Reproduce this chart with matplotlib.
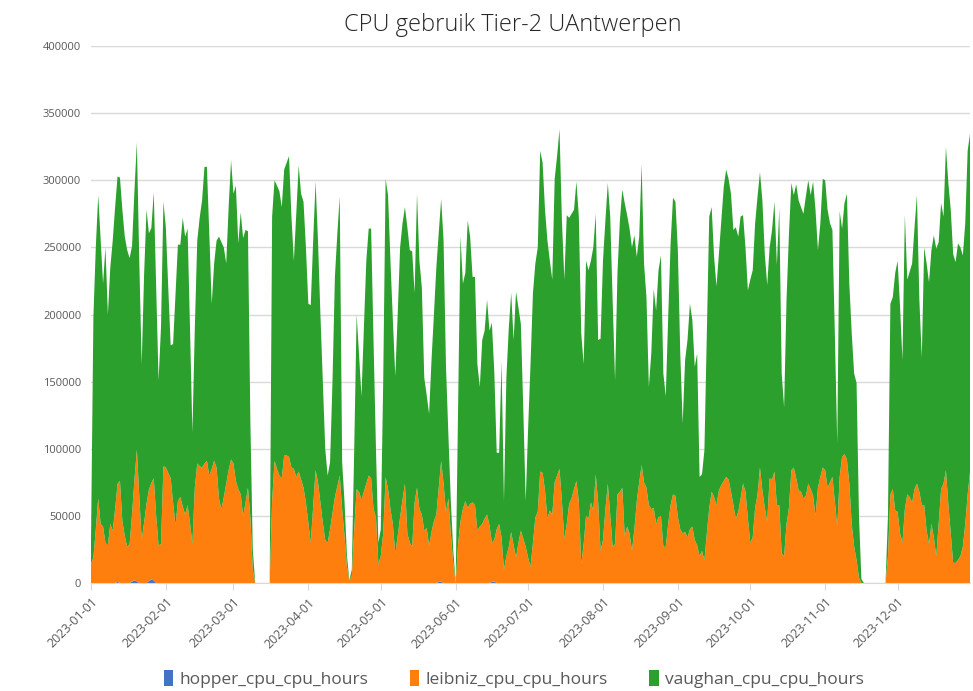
import numpy as np
import pandas as pd
import matplotlib
matplotlib.use("Agg")
import matplotlib.pyplot as plt
import matplotlib.dates as mdates
from matplotlib.patches import Patch

days = pd.date_range("2023-01-01", "2023-12-31", freq="D")

# dagelijkse cpu uren per cluster, in duizenden
leibniz_k = [
    14, 19, 40, 63, 44, 42, 30, 28, 44, 39,
    55, 73, 76, 46, 35, 27, 29, 50, 75, 98,
    65, 32, 45, 59, 68, 72, 76, 50, 28, 29,
    87, 86, 82, 78, 60, 43, 61, 64, 57, 51,
    58, 45, 29, 71, 89, 87, 86, 89, 91, 80,
    85, 91, 86, 63, 55, 64, 74, 84, 92, 89,
    76, 70, 66, 50, 60, 71, 49, 10, 0, 0,
    0, 0, 0, 0, 0, 61, 91, 85, 80, 78,
    95, 95, 94, 86, 85, 79, 83, 77, 71, 60,
    45, 30, 57, 84, 75, 60, 45, 32, 30, 40,
    52, 64, 72, 80, 55, 35, 12, 2, 5, 40,
    70, 68, 62, 68, 74, 80, 78, 55, 49, 14,
    20, 37, 79, 70, 55, 44, 22, 35, 49, 62,
    74, 37, 30, 27, 60, 71, 55, 51, 39, 41,
    28, 38, 46, 51, 70, 90, 74, 53, 63, 37,
    15, 0, 29, 46, 55, 61, 56, 59, 60, 58,
    39, 42, 44, 48, 51, 43, 29, 31, 40, 44,
    34, 10, 20, 27, 38, 28, 19, 30, 39, 33,
    27, 19, 12, 30, 49, 53, 83, 82, 69, 48,
    54, 51, 75, 80, 85, 61, 33, 44, 59, 63,
    70, 76, 61, 14, 29, 50, 48, 60, 54, 81,
    60, 24, 32, 55, 74, 51, 27, 29, 66, 68,
    71, 35, 42, 37, 24, 40, 61, 75, 88, 75,
    71, 58, 55, 56, 44, 49, 50, 27, 27, 44,
    58, 66, 65, 49, 40, 37, 38, 34, 40, 42,
    32, 28, 20, 24, 17, 37, 56, 68, 64, 58,
    69, 73, 76, 79, 77, 68, 58, 48, 53, 63,
    74, 68, 48, 30, 34, 56, 66, 86, 69, 56,
    46, 78, 77, 83, 58, 58, 22, 20, 44, 56,
    84, 86, 78, 69, 68, 63, 65, 74, 70, 65,
    50, 71, 79, 86, 84, 71, 75, 79, 61, 42,
    79, 94, 96, 92, 74, 44, 27, 17, 4, 0,
    0, 0, 0, 0, 0, 0, 0, 0, 0, 0,
    20, 66, 70, 54, 53, 37, 30, 55, 66, 64,
    60, 70, 74, 68, 58, 58, 39, 29, 44, 34,
    20, 44, 70, 74, 84, 59, 37, 15, 15, 17,
    20, 27, 44, 66, 83,
]

vaughan_k = [
    16, 179, 210, 226, 212, 181, 220, 172, 191, 216,
    225, 229, 226, 232, 223, 221, 213, 200, 215, 229,
    175, 131, 185, 219, 191, 190, 213, 170, 123, 162,
    197, 179, 138, 99, 118, 172, 191, 188, 215, 207,
    206, 145, 83, 119, 166, 185, 199, 221, 219, 180,
    123, 147, 169, 195, 199, 186, 164, 196, 223, 201,
    220, 183, 210, 207, 203, 191, 71, 15, 0, 0,
    0, 0, 0, 0, 0, 212, 209, 211, 212, 202,
    213, 218, 224, 187, 155, 196, 228, 213, 213, 190,
    163, 177, 198, 215, 180, 140, 105, 68, 50, 50,
    98, 164, 188, 208, 35, 25, 8, 0, 5, 60,
    130, 102, 77, 122, 166, 184, 186, 125, 51, 16,
    20, 113, 222, 219, 185, 152, 132, 165, 201, 206,
    206, 228, 218, 220, 156, 219, 185, 169, 114, 99,
    98, 128, 154, 184, 190, 195, 181, 108, 47, 24,
    10, 0, 101, 212, 168, 170, 214, 199, 168, 170,
    124, 104, 137, 140, 160, 145, 164, 125, 57, 53,
    131, 51, 133, 163, 178, 153, 198, 175, 154, 97,
    34, 96, 151, 186, 189, 197, 239, 231, 209, 207,
    186, 175, 226, 238, 253, 209, 193, 230, 213, 212,
    208, 223, 212, 172, 134, 190, 185, 180, 196, 194,
    121, 158, 208, 215, 224, 222, 184, 122, 165, 202,
    222, 248, 232, 227, 226, 219, 182, 183, 224, 163,
    142, 88, 116, 163, 159, 184, 194, 129, 112, 154,
    195, 221, 219, 199, 131, 82, 128, 147, 168, 154,
    129, 143, 59, 57, 82, 149, 217, 212, 179, 163,
    176, 197, 219, 229, 224, 222, 205, 217, 205, 210,
    200, 182, 170, 196, 199, 212, 222, 220, 216, 189,
    176, 172, 186, 201, 179, 221, 134, 111, 167, 204,
    214, 203, 219, 216, 212, 212, 223, 226, 219, 234,
    228, 177, 189, 215, 216, 207, 193, 184, 125, 62,
    198, 170, 187, 198, 149, 142, 129, 132, 46, 3,
    0, 0, 0, 0, 0, 0, 0, 0, 0, 0,
    30, 142, 143, 177, 187, 169, 136, 219, 160, 168,
    178, 195, 215, 143, 110, 192, 199, 195, 204, 225,
    229, 210, 213, 199, 241, 239, 241, 230, 224, 236,
    230, 217, 224, 256, 252,
]

# hopper draait bijna niets: alleen een paar dagen met wat uren
hopper_days = [11, 17, 18, 19, 24, 25, 26, 144, 145, 166, 167]
hopper_k = [0.8, 1.0, 2.0, 1.2, 1.5, 2.5, 2.0, 0.8, 1.0, 0.8, 1.2]

names = ["hopper_cpu_cpu_hours", "leibniz_cpu_cpu_hours", "vaughan_cpu_cpu_hours"]
colors = ["#4472c4", "#ff7f0e", "#2ca02c"]

hopper = np.zeros(len(days))
hopper[hopper_days] = hopper_k
hopper = hopper * 1000
leibniz = np.array(leibniz_k) * 1000
vaughan = np.array(vaughan_k) * 1000

plt.rcParams['font.family'] = ['Open Sans', 'DejaVu Sans']
grey = "#595959"

fig = plt.figure(figsize=(9.73, 6.91), dpi=100)
ax = fig.add_axes([0.0935, 0.1563, 0.9035, 0.7771])
ax.stackplot(days, hopper, leibniz, vaughan, colors=colors, linewidth=0)

ax.set_xlim(days[0], days[-1])
ax.set_ylim(0, 400000)
ax.set_yticks(np.arange(0, 400001, 50000))
ax.yaxis.grid(True, color="#d9d9d9", linewidth=1)
ax.set_axisbelow(True)
for s in ["top", "right", "left"]:
    ax.spines[s].set_visible(False)
ax.spines["bottom"].set_color("#d9d9d9")
ax.tick_params(axis="y", length=0, pad=7, labelsize=8, labelcolor=grey)

ax.xaxis.set_major_locator(mdates.MonthLocator())
ax.xaxis.set_major_formatter(mdates.DateFormatter("%Y-%m-%d"))
ax.tick_params(axis="x", length=5, color="#d9d9d9", labelsize=9, labelcolor=grey, pad=4)
for lab in ax.get_xticklabels():
    lab.set_rotation(45)
    lab.set_ha("right")
    lab.set_rotation_mode("anchor")

fig.text(0.527, 0.964, "CPU gebruik Tier-2 UAntwerpen", ha="center", va="center",
         fontsize=17, fontweight="light", color="#262626")

handles = [Patch(facecolor=c, edgecolor="none") for c in colors]
fig.legend(handles, names, loc="lower center", bbox_to_anchor=(0.528, -0.018), ncol=3,
           frameon=False, fontsize=12.5, labelcolor=grey, handlelength=0.55, handleheight=1.1,
           handletextpad=0.35, columnspacing=2.4)

fig.savefig("out.png", dpi=100)
